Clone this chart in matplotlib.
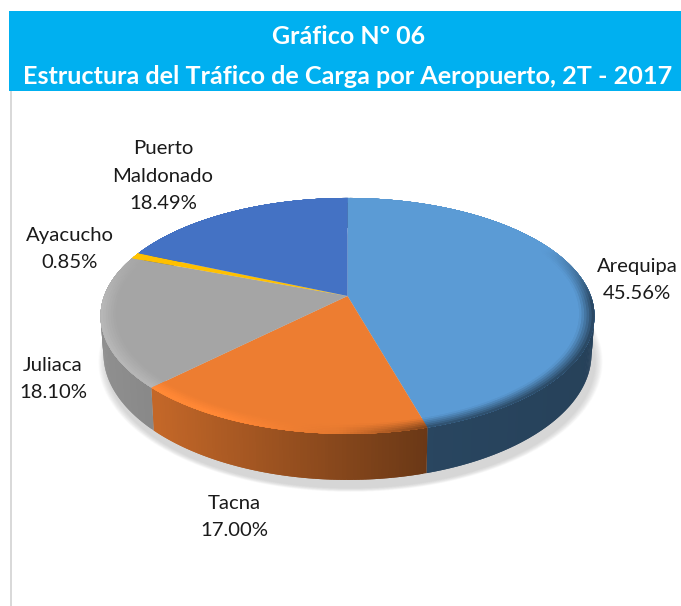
import numpy as np
import matplotlib
matplotlib.use("Agg")
import matplotlib.pyplot as plt
from matplotlib.collections import PolyCollection
from matplotlib.colors import to_rgb
from matplotlib.patches import Rectangle, Polygon
from matplotlib.path import Path
from matplotlib.transforms import Transform

title_lines = ["Gráfico N° 06", "Estructura del Tráfico de Carga por Aeropuerto, 2T - 2017"]
airports = ["Arequipa", "Tacna", "Juliaca", "Ayacucho", "Puerto\nMaldonado"]
shares = [45.56, 17.00, 18.10, 0.85, 18.49]
slice_colors = ["#5B9BD5", "#ED7D31", "#A5A5A5", "#FFC000", "#4472C4"]
label_centers = [(637, 280), (234, 517), (53, 379), (70, 249), (163, 176)]

W, H = 681, 606
CX, CY, A, B, K = 347.5, 296.0, 243.4, 114.6, 0.169
FONT = ["Lato", "DejaVu Sans"]


def project(x, y):
    d = 1 + K * y
    return CX + A * x / d, CY - B * y / d


def extrude(sx, sy):
    return CX + (sx - CX) * 0.988, sy + 38 + 8 * (sy - 316) / 118


class Persp(Transform):
    input_dims = output_dims = 2
    is_affine = False
    has_inverse = False

    def transform_non_affine(self, values):
        v = np.asarray(values, float)
        return np.column_stack(project(v[:, 0], v[:, 1]))

    def transform_path_non_affine(self, path):
        verts, i = [], 0
        v, c = path.vertices, path.codes
        ts = np.linspace(0, 1, 25)[1:, None]
        while i < len(v):
            if c[i] == Path.CURVE4:
                p0, p1, p2, p3 = np.array(verts[-1]), v[i], v[i + 1], v[i + 2]
                pts = (1 - ts) ** 3 * p0 + 3 * (1 - ts) ** 2 * ts * p1 + 3 * (1 - ts) * ts ** 2 * p2 + ts ** 3 * p3
                verts.extend(pts)
                i += 3
            elif c[i] == Path.CLOSEPOLY:
                verts.append(verts[0])
                i += 1
            else:
                verts.append(v[i])
                i += 1
        return Path(self.transform_non_affine(np.array(verts)))


fig = plt.figure(figsize=(W / 100, H / 100), dpi=100, facecolor="white")
ax = fig.add_axes([0, 0, 1, 1])
wedges, _ = ax.pie(shares, colors=slice_colors, startangle=90, counterclock=False,
                   radius=1, wedgeprops=dict(linewidth=0, zorder=5))
persp = Persp()
for w in wedges:
    w.set_transform(persp + ax.transData)
ax.set_aspect("auto")
ax.set_xlim(0, W)
ax.set_ylim(H, 0)
ax.axis("off")

# header band and left rule
ax.add_patch(Rectangle((9, 11), W - 9, 80, fc="#00B0F0", ec="none", zorder=1))
ax.add_patch(Rectangle((10, 91), 2, H - 91, fc="#D9D9D9", ec="none", zorder=1))
ax.text(349, 36, title_lines[0], color="white", ha="center", va="center",
        fontsize=18, fontweight="bold", family=FONT, zorder=10)
ax.text(348, 76, title_lines[1], color="white", ha="center", va="center",
        fontsize=18.2, fontweight="bold", family=FONT, zorder=10)

# slice angle limits (degrees, clockwise from 12 o'clock)
cum = np.concatenate([[0], np.cumsum(shares)]) / np.sum(shares) * 360


def circle(r, deg):
    a = np.radians(deg)
    return r * np.sin(a), r * np.cos(a)


# soft shadow under the disc
ring = np.linspace(0, 360, 361)
sx, sy = project(*circle(1, ring))
bx, by = extrude(sx, sy)
for n in range(12, 0, -1):
    f = 1 + n * 0.0028
    pts = np.column_stack([CX + 3 + (bx - CX) * f, 366 + (by - 360) * f + 2])
    ax.add_patch(Polygon(pts, closed=True, fc="#808080", ec="none", alpha=0.028, zorder=2))

# extruded side: each quad overlaps the next so no seams appear
side_polys, side_cols = [], []
for i, col in enumerate(slice_colors):
    base = np.array(to_rgb(col))
    start, stop = cum[i], cum[i + 1]
    n = max(2, int((stop - start) / 0.7))
    t = np.linspace(start, stop, n + 1)
    x0, y0 = project(*circle(1, t))
    x1, y1 = extrude(x0, y0)
    for j in range(n):
        e = min(j + 2, n)
        xm = 0.5 * (x0[j] + x0[j + 1])
        shade = np.interp(xm, [100, 160, 300, 426, 600], [0.87, 0.82, 0.62, 0.45, 0.42])
        side_polys.append([(x0[j], y0[j]), (x0[e], y0[e]), (x1[e], y1[e]), (x1[j], y1[j])])
        side_cols.append(base * shade)
ax.add_collection(PolyCollection(side_polys, facecolors=side_cols, edgecolors="none",
                                 linewidths=0, zorder=3))

# bevel along the front rim of the top face, outer rings painted over inner ones
bev_polys, bev_cols = [], []
rings = np.linspace(0.94, 1.0, 7)
for k in range(len(rings) - 1):
    frac = (k + 0.5) / (len(rings) - 1)
    for i, col in enumerate(slice_colors):
        base = np.array(to_rgb(col))
        start, stop = cum[i], cum[i + 1]
        n = max(2, int((stop - start) / 0.7))
        t = np.linspace(start, stop, n + 1)
        x0, y0 = project(*circle(rings[k], t))
        x1, y1 = project(*circle(1.0, t))
        for j in range(n):
            e = min(j + 2, n)
            xm, ym = 0.5 * (x0[j] + x0[j + 1]), circle(1, 0.5 * (t[j] + t[j + 1]))[1]
            weight = np.clip((0.45 - ym) / 0.5, 0, 1) * frac
            rim = np.interp(xm, [100, 220, 340, 430, 600], [1.12, 1.1, 0.95, 0.5, 0.42])
            colour = np.clip(base * (1 + (rim - 1) * weight), 0, 1)
            bev_polys.append([(x0[j], y0[j]), (x0[e], y0[e]), (x1[e], y1[e]), (x1[j], y1[j])])
            bev_cols.append(colour)
ax.add_collection(PolyCollection(bev_polys, facecolors=bev_cols, edgecolors="none",
                                 linewidths=0, zorder=6))

# data labels
for name, value, (lx, ly) in zip(airports, shares, label_centers):
    ax.text(lx, ly, f"{name}\n{value:.2f}%", ha="center", va="center", color="#1a1a1a",
            fontsize=14.6, family=FONT, linespacing=1.72, zorder=10)

fig.savefig("out.png", dpi=100, facecolor="white")
